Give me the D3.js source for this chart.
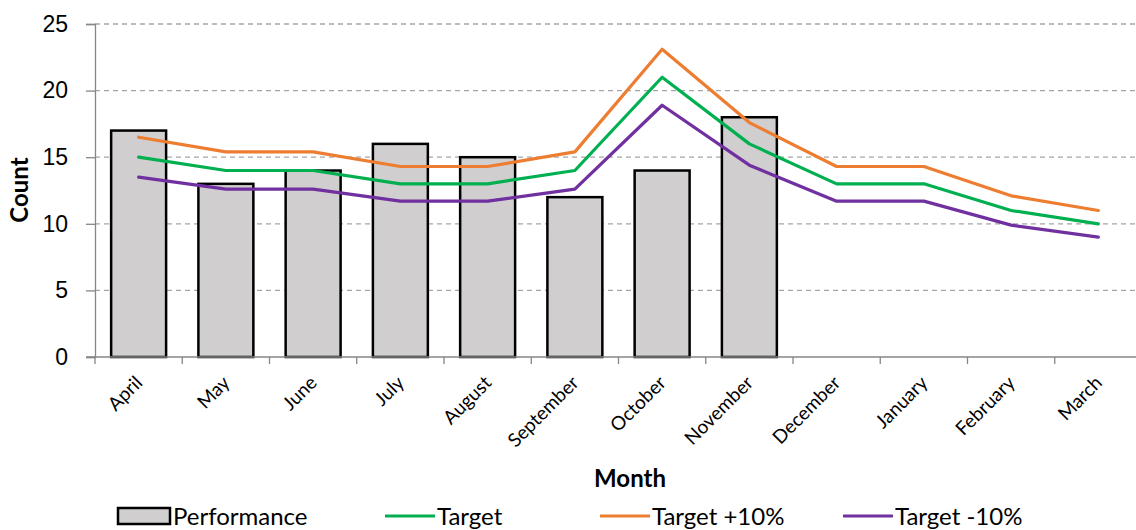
<!DOCTYPE html>
<html>
<head>
<meta charset="utf-8">
<script src="https://cdn.jsdelivr.net/npm/d3@7"></script>
<style>
  body { margin: 0; background: #fff; }
  svg { font-family: Lato, "Open Sans", sans-serif; }
</style>
</head>
<body>
<svg id="chart" width="1136" height="530"></svg>
<script>
const months = ['April', 'May', 'June', 'July', 'August', 'September', 'October', 'November', 'December', 'January', 'February', 'March'];
const performance = [17, 13, 14, 16, 15, 12, 14, 18];
const target = [15, 14, 14, 13, 13, 14, 21, 16, 13, 13, 11, 10];
const targetPlus = [16.5, 15.4, 15.4, 14.3, 14.3, 15.4, 23.1, 17.6, 14.3, 14.3, 12.1, 11];
const targetMinus = [13.5, 12.6, 12.6, 11.7, 11.7, 12.6, 18.9, 14.4, 11.7, 11.7, 9.9, 9];
const yTicks = [0, 5, 10, 15, 20, 25];

const lineSeries = [
  { name: 'Target', values: target, color: '#00b050' },
  { name: 'Target +10%', values: targetPlus, color: '#ed7d31' },
  { name: 'Target -10%', values: targetMinus, color: '#7030a0' }
];

const svg = d3.select('#chart');
const plotLeft = 95, plotRight = 1142, plotTop = 24, plotBottom = 357;

const x = d3.scaleBand().domain(months).range([plotLeft, plotRight]).paddingInner(0.37).paddingOuter(0.185);
const xc = d3.scalePoint().domain(months).range([plotLeft, plotRight]).padding(0.5);
const y = d3.scaleLinear().domain([0, 25]).range([plotBottom, plotTop]);

// gridlines
svg.append('g').selectAll('line').data(yTicks.filter(d => d > 0)).enter().append('line')
  .attr('x1', plotLeft).attr('x2', 1136)
  .attr('y1', d => y(d)).attr('y2', d => y(d))
  .attr('stroke', '#a6a6a6').attr('stroke-width', 1.3).attr('stroke-dasharray', '5,4');

// y axis
const yAxis = svg.append('g').attr('transform', `translate(${plotLeft},0)`)
  .call(d3.axisLeft(y).tickValues(yTicks).tickSize(9).tickPadding(18));
yAxis.select('.domain').attr('stroke', '#868686').attr('stroke-width', 1.3);
yAxis.selectAll('.tick line').attr('stroke', '#868686').attr('stroke-width', 1.3);
yAxis.selectAll('.tick text').attr('font-size', 23).attr('fill', '#000');

// bars
svg.append('g').selectAll('rect').data(performance).enter().append('rect')
  .attr('x', (d, i) => x(months[i]))
  .attr('y', d => y(d))
  .attr('width', x.bandwidth())
  .attr('height', d => y(0) - y(d))
  .attr('fill', '#d0cece')
  .attr('stroke', '#000')
  .attr('stroke-width', 2.5);

// x axis
const xAxisG = svg.append('g').attr('transform', `translate(0,${plotBottom})`);
xAxisG.append('line').attr('x1', plotLeft - 9).attr('x2', 1136).attr('stroke', '#868686').attr('stroke-width', 1.3);
const bStep = x.step();
xAxisG.selectAll('.tk').data(d3.range(months.length + 1)).enter().append('line')
  .attr('x1', i => plotLeft + i * bStep).attr('x2', i => plotLeft + i * bStep)
  .attr('y1', 0).attr('y2', 7)
  .attr('stroke', '#868686').attr('stroke-width', 1.3);
xAxisG.selectAll('text').data(months).enter().append('text')
  .attr('transform', d => `translate(${xc(d) + 5},${27}) rotate(-45)`)
  .attr('text-anchor', 'end')
  .attr('font-size', 19)
  .text(d => d);

// lines
const line = d3.line().x((d, i) => xc(months[i])).y(d => y(d));
svg.append('g').selectAll('path').data(lineSeries).enter().append('path')
  .attr('d', d => line(d.values))
  .attr('fill', 'none')
  .attr('stroke', d => d.color)
  .attr('stroke-width', 3.2)
  .attr('stroke-linejoin', 'round')
  .attr('stroke-linecap', 'round');

// axis titles
svg.append('text').attr('x', 630).attr('y', 487)
  .attr('text-anchor', 'middle').attr('font-size', 24).attr('font-weight', 'bold').text('Month');
svg.append('text').attr('transform', `translate(28,${190}) rotate(-90)`)
  .attr('text-anchor', 'middle').attr('font-size', 24).attr('font-weight', 'bold').text('Count');

// legend
const legend = svg.append('g');
legend.append('rect').attr('x', 118).attr('y', 508).attr('width', 52).attr('height', 16)
  .attr('fill', '#d0cece').attr('stroke', '#000').attr('stroke-width', 2.5);
legend.append('text').attr('x', 173).attr('y', 525).attr('font-size', 24).text('Performance');
const legX = [385, 600, 843];
lineSeries.forEach((s, i) => {
  legend.append('line').attr('x1', legX[i]).attr('x2', legX[i] + 50).attr('y1', 516).attr('y2', 516)
    .attr('stroke', s.color).attr('stroke-width', 3.2);
  legend.append('text').attr('x', legX[i] + 52).attr('y', 525).attr('font-size', 24).text(s.name);
});
</script>
</body>
</html>
